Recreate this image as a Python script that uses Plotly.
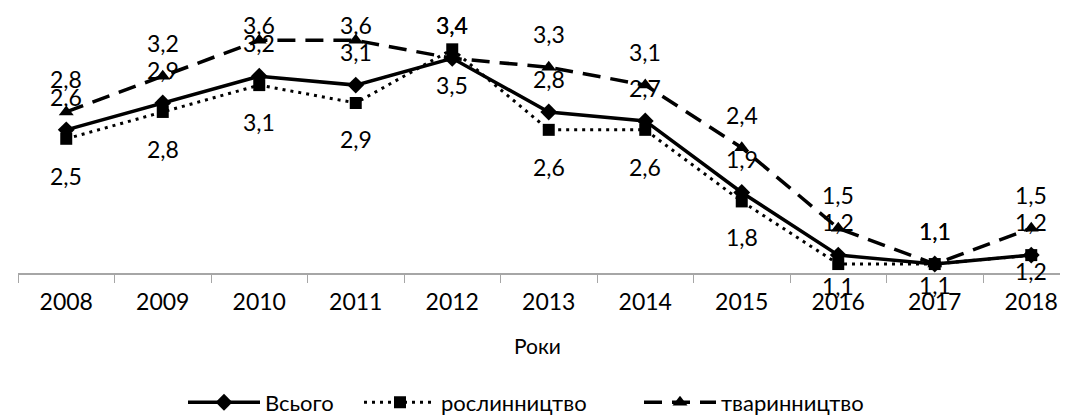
import plotly.graph_objects as go

years = ["2008", "2009", "2010", "2011", "2012", "2013", "2014", "2015", "2016", "2017", "2018"]
total = [2.6, 2.9, 3.2, 3.1, 3.4, 2.8, 2.7, 1.9, 1.2, 1.1, 1.2]
crops = [2.5, 2.8, 3.1, 2.9, 3.5, 2.6, 2.6, 1.8, 1.1, 1.1, 1.2]
livestock = [2.8, 3.2, 3.6, 3.6, 3.4, 3.3, 3.1, 2.4, 1.5, 1.1, 1.5]

name_total = "Всього"
name_crops = "рослинництво"
name_live = "тваринництво"
x_title = "Роки"

# layout constants
W, H = 1068, 416
ML, MR, MT, MB = 10, 0, 6, 146
PX_PER_UNIT = 91.2
CAT_W = 96.5
plot_h = H - MT - MB
plot_w = W - ML - MR
y_min = 1.0
y_max = y_min + plot_h / PX_PER_UNIT
x_rng = [-0.5, -0.5 + plot_w / CAT_W]

FONT = "Lato, 'Open Sans', 'Noto Sans', sans-serif"
LBL = 23

def fmt(v):
    return f"{v:.1f}".replace(".", ",")

def px(v):
    return MT + (y_max - v) * PX_PER_UNIT

def legend_at(x_px):
    return dict(orientation="h", x=(x_px - ML) / plot_w, xanchor="left",
                y=-(402 - (MT + plot_h)) / plot_h, yanchor="middle",
                font=dict(family=FONT, size=22, color="black"),
                itemwidth=72, bgcolor="rgba(0,0,0,0)")

fig = go.Figure()

fig.add_trace(go.Scatter(
    x=years, y=livestock, name=name_live, mode="lines+markers",
    line=dict(color="black", width=3.5, dash="18px,10px"),
    marker=dict(symbol="triangle-up", size=13, color="black"),
    legend="legend3", cliponaxis=False))
fig.add_trace(go.Scatter(
    x=years, y=total, name=name_total, mode="lines+markers",
    line=dict(color="black", width=3.5),
    marker=dict(symbol="diamond", size=13, color="black"),
    legend="legend", cliponaxis=False))
fig.add_trace(go.Scatter(
    x=years, y=crops, name=name_crops, mode="lines+markers",
    line=dict(color="black", width=3, dash="3px,5px"),
    marker=dict(symbol="square", size=12, color="black"),
    legend="legend2", cliponaxis=False))

annotations = []
ABOVE = 33
TOP_LIMIT = 18
for i in range(len(years)):
    v = livestock[i]
    c = max(px(v) - ABOVE, TOP_LIMIT)
    annotations.append(dict(x=i, y=v, yshift=px(v) - c, text=fmt(v)))
    v = total[i]
    annotations.append(dict(x=i, y=v, yshift=ABOVE, text=fmt(v)))

below_offsets = [37, 37, 37, 36, 36, 37, 37, 36, 22, 21, 16]
for i in range(len(years)):
    v = crops[i]
    annotations.append(dict(x=i, y=v, yshift=-below_offsets[i], text=fmt(v)))

for a in annotations:
    a.update(xref="x", yref="y", showarrow=False, xanchor="center", yanchor="middle",
             font=dict(family=FONT, size=LBL, color="black"))

annotations.append(dict(
    xref="paper", yref="paper", x=(529 - ML) / plot_w, y=-(344 - (MT + plot_h)) / plot_h,
    text=x_title, showarrow=False, xanchor="center", yanchor="middle",
    font=dict(family=FONT, size=21, color="black")))

fig.update_layout(
    width=W, height=H,
    margin=dict(l=ML, r=MR, t=MT, b=MB),
    paper_bgcolor="white", plot_bgcolor="white",
    font=dict(family=FONT, color="black"),
    annotations=annotations,
    showlegend=True,
    legend=legend_at(175),
    legend2=legend_at(351),
    legend3=legend_at(631),
    xaxis=dict(type="category", range=x_rng, showgrid=False, zeroline=False,
               showline=True, linecolor="#a6a6a6", linewidth=1.5,
               ticks="outside", tickson="boundaries", ticklen=8, tickcolor="#a6a6a6",
               tickwidth=1.2, tickfont=dict(family=FONT, size=LBL, color="black"),
               ticklabelstandoff=8),
    yaxis=dict(range=[y_min, y_max], visible=False, showgrid=False, zeroline=False),
)

fig.write_html("out.html")
